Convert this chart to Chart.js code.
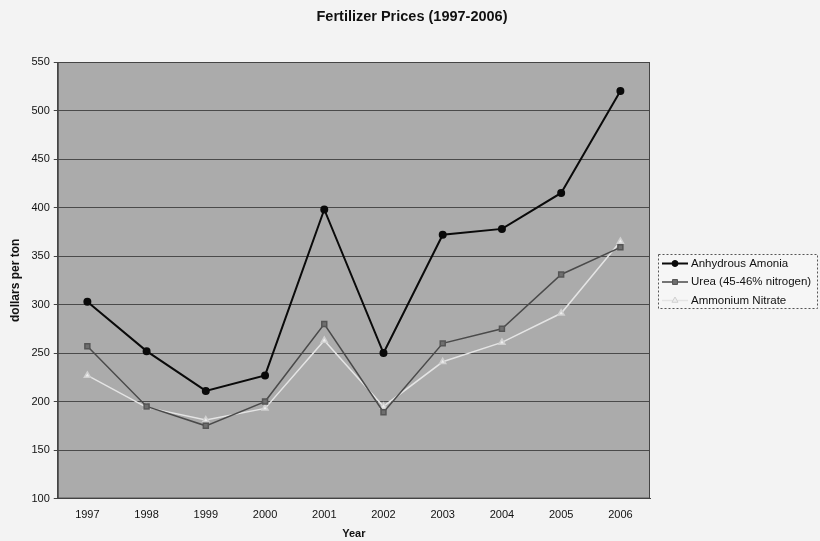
<!DOCTYPE html>
<html>
<head>
<meta charset="utf-8">
<script src="https://cdn.jsdelivr.net/npm/chart.js@4/dist/chart.umd.min.js"></script>
<style>
  html, body { margin: 0; padding: 0; background: #f3f3f3; }
  #wrap { width: 820px; height: 541px; }
</style>
</head>
<body>
<div id="wrap"><canvas id="fertChart" width="820" height="541"></canvas></div>
<script>
// Datos
const years = ['1997', '1998', '1999', '2000', '2001', '2002', '2003', '2004', '2005', '2006'];
const anhydrousAmmonia = [303, 252, 211, 227, 398, 250, 372, 378, 415, 520];
const urea = [257, 195, 175, 200, 280, 189, 260, 275, 331, 359];
const ammoniumNitrate = [227, 194, 181, 193, 263, 195, 241, 261, 291, 365];
const seriesNames = ['Anhydrous Amonia', 'Urea (45-46% nitrogen)', 'Ammonium Nitrate'];
const chartTitle = 'Fertilizer Prices (1997-2006)';

const FONT = '"Liberation Sans", Arial, sans-serif';

// Fondo gris del área de trazado
const plotBackground = {
  id: 'plotBackground',
  beforeDraw(chart) {
    const { ctx, chartArea: a } = chart;
    ctx.save();
    ctx.fillStyle = '#ababab';
    ctx.fillRect(a.left, a.top, a.right - a.left, a.bottom - a.top);
    ctx.restore();
  },
  afterDatasetsDraw(chart) {
    const { ctx, chartArea: a } = chart;
    ctx.save();
    ctx.strokeStyle = '#444';
    ctx.lineWidth = 1;
    ctx.strokeRect(a.left + 0.5, a.top + 0.5, a.right - a.left - 1, a.bottom - a.top - 1);
    ctx.restore();
  }
};

// Título centrado sobre todo el lienzo (como en Excel)
const pageTitle = {
  id: 'pageTitle',
  afterDraw(chart) {
    const ctx = chart.ctx;
    ctx.save();
    ctx.fillStyle = '#111';
    ctx.font = 'bold 14.5px ' + FONT;
    ctx.textAlign = 'center';
    ctx.textBaseline = 'middle';
    ctx.fillText(chartTitle, 412, 17);
    ctx.restore();
  }
};

// Leyenda estilo Excel (línea + marcador) con borde punteado
const excelLegend = {
  id: 'excelLegend',
  afterDraw(chart) {
    const ctx = chart.ctx;
    const x = 658, y = 254, w = 159, h = 54;
    ctx.save();
    ctx.fillStyle = '#f6f6f6';
    ctx.fillRect(x, y, w, h);
    ctx.setLineDash([2, 2]);
    ctx.strokeStyle = '#555';
    ctx.lineWidth = 1;
    ctx.strokeRect(x + 0.5, y + 0.5, w, h);
    ctx.setLineDash([]);
    chart.data.datasets.forEach((ds, i) => {
      const ly = y + 9.5 + i * 18.5;
      ctx.strokeStyle = ds.borderColor;
      ctx.lineWidth = ds.borderWidth;
      ctx.beginPath();
      ctx.moveTo(x + 4, ly);
      ctx.lineTo(x + 30, ly);
      ctx.stroke();
      ctx.fillStyle = ds.pointBackgroundColor;
      ctx.strokeStyle = ds.pointBorderColor;
      ctx.lineWidth = 1;
      Chart.helpers.drawPoint(ctx, { pointStyle: ds.pointStyle, radius: ds.pointRadius, borderWidth: 1 }, x + 17, ly);
      ctx.fillStyle = '#111';
      ctx.font = '11.5px ' + FONT;
      ctx.textBaseline = 'middle';
      ctx.fillText(seriesNames[i], x + 33, ly);
    });
    ctx.restore();
  }
};

const ctx = document.getElementById('fertChart').getContext('2d');
const fertChart = new Chart(ctx, {
  type: 'line',
  data: {
    labels: years,
    datasets: [{
      label: seriesNames[0],
      data: anhydrousAmmonia,
      borderColor: '#0a0a0a',
      borderWidth: 2,
      pointStyle: 'circle',
      pointRadius: 3,
      pointBackgroundColor: '#0a0a0a',
      pointBorderColor: '#0a0a0a'
    }, {
      label: seriesNames[1],
      data: urea,
      borderColor: '#4a4a4a',
      borderWidth: 1.5,
      pointStyle: 'rect',
      pointRadius: 3.5,
      pointBackgroundColor: '#6e6e6e',
      pointBorderColor: '#555'
    }, {
      label: seriesNames[2],
      data: ammoniumNitrate,
      borderColor: '#e4e4e4',
      borderWidth: 1.5,
      pointStyle: 'triangle',
      pointRadius: 3.5,
      pointBackgroundColor: '#eeeeee',
      pointBorderColor: '#d0d0d0'
    }]
  },
  options: {
    responsive: false,
    animation: false,
    layout: { padding: { left: 6, right: 170, top: 62, bottom: 0 } },
    plugins: {
      legend: { display: false },
      tooltip: { enabled: false },
      title: { display: false }
    },
    scales: {
      x: {
        offset: true,
        grid: { display: false, tickLength: 4 },
        border: { display: true, color: '#444' },
        ticks: {
          color: '#111',
          padding: 6,
          font: { family: FONT, size: 11 }
        },
        title: {
          display: true,
          text: 'Year',
          color: '#111',
          padding: { top: 0, bottom: 0 },
          font: { family: FONT, size: 11, weight: 'bold' }
        }
      },
      y: {
        min: 100,
        max: 550,
        grid: { color: '#4a4a4a', lineWidth: 1, tickLength: 4, tickColor: '#444' },
        border: { display: true, color: '#444' },
        ticks: {
          stepSize: 50,
          color: '#111',
          padding: 4,
          font: { family: FONT, size: 11 }
        },
        title: {
          display: true,
          text: 'dollars per ton',
          color: '#111',
          padding: { top: 2, bottom: 5 },
          font: { family: FONT, size: 12, weight: 'bold' }
        }
      }
    }
  },
  plugins: [plotBackground, pageTitle, excelLegend]
});
</script>
</body>
</html>
